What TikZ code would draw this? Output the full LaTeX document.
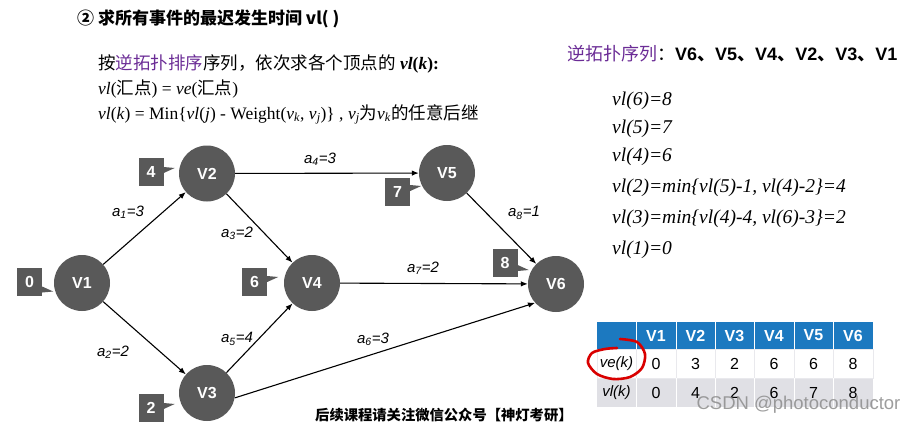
\documentclass[tikz,border=0pt]{standalone}
\usepackage{fontspec}
\setmainfont{Liberation Serif}
\setsansfont{Liberation Sans}
\newfontfamily\cjk{Noto Sans CJK SC}
\usetikzlibrary{arrows.meta}
\definecolor{ngray}{RGB}{89,89,89}
\definecolor{purp}{RGB}{107,44,150}
\definecolor{tblue}{RGB}{28,121,192}
\definecolor{rgray}{RGB}{224,224,229}
\definecolor{wm}{RGB}{140,140,140}
\begin{document}
\begin{tikzpicture}[x=1pt,y=-1pt,
  vert/.style={circle,fill=ngray,minimum size=56pt,inner sep=0pt,text=white,font=\sffamily\bfseries\fontsize{16}{16}\selectfont},
  tagbox/.style={fill=ngray,minimum width=25pt,minimum height=28pt,inner sep=0pt,text=white,font=\sffamily\bfseries\fontsize{16}{16}\selectfont},
  arr/.style={-{Latex[length=7pt,width=5.5pt]},line width=1.1pt},
  elab/.style={font=\sffamily\itshape\fontsize{15}{15}\selectfont,inner sep=0pt},
  txt/.style={anchor=base west,inner sep=0pt},
  vlt/.style={anchor=base west,inner sep=0pt,font=\itshape\fontsize{19.5}{19.5}\selectfont},
  hdr/.style={text=white,font=\sffamily\bfseries\fontsize{16}{16}\selectfont,inner sep=0pt},
  cell/.style={font=\sffamily\fontsize{16}{16}\selectfont,inner sep=0pt}
]
\useasboundingbox (0,0) rectangle (919,426);
\fill[white] (0,0) rectangle (919,426);

% ---- texts top-left
\node[txt] (title) at (77,24.5) {\cjk\bfseries\fontsize{17}{17}\selectfont ② 求所有事件的最迟发生时间 vl( )};
\node[txt] (l1) at (98,69) {\fontsize{17.5}{17.5}\selectfont{\cjk 按}{\cjk\color{purp}逆拓扑排序}{\cjk 序列，依次求各个顶点的} \textbf{\textit{vl}(\textit{k}):}};
\node[txt] (l2) at (98,94.5) {\fontsize{17.5}{17.5}\selectfont\textit{vl}({\cjk 汇点}) = \textit{ve}({\cjk 汇点})};
\node[txt] (l3) at (98,119) {\fontsize{17.5}{17.5}\selectfont\textit{vl}(\textit{k}) = Min\{\textit{vl}(\textit{j}) - Weight(\textit{v}\textsubscript{\textit{k}}, \textit{v}\textsubscript{\textit{j}})\} , \textit{v}\textsubscript{\textit{j}}{\cjk 为}\textit{v}\textsubscript{\textit{k}}{\cjk 的任意后继}};

% ---- right texts
\node[txt] (seq) at (567,60) {\fontsize{18}{18}\selectfont{\cjk\color{purp}逆拓扑序列}{\cjk ：}\sffamily\bfseries V6{\cjk 、}V5{\cjk 、}V4{\cjk 、}V2{\cjk 、}V3{\cjk 、}V1};
\node[vlt] (r1) at (612,105) {vl(6)=8};
\node[vlt] (r2) at (612,133) {vl(5)=7};
\node[vlt] (r3) at (612,161.5) {vl(4)=6};
\node[vlt] (r4) at (612,192.5) {vl(2)=min\{vl(5)-1, vl(4)-2\}=4};
\node[vlt] (r5) at (612,223.5) {vl(3)=min\{vl(4)-4, vl(6)-3\}=2};
\node[vlt] (r6) at (612,254) {vl(1)=0};

% ---- graph
\node[vert] (V1) at (82,283) {V1};
\node[vert] (V2) at (207,173.5) {V2};
\node[vert] (V3) at (207,393) {V3};
\node[vert] (V4) at (312,283) {V4};
\node[vert] (V5) at (447,173) {V5};
\node[vert] (V6) at (556,284) {V6};

\draw[arr] (V1) -- (V2);
\draw[arr] (V1) -- (V3);
\draw[arr] (V2) -- (V4);
\draw[arr] (V3) -- (V4);
\draw[arr] (V2) -- (V5);
\draw[arr] (V4) -- (V6);
\draw[arr] (V5) -- (V6);
\draw[arr] (V3.-10) -- (V6.222);

\node[elab] (e1) at (128,212) {a\textsubscript{1}=3};
\node[elab] (e2) at (113,352) {a\textsubscript{2}=2};
\node[elab] (e3) at (237,233) {a\textsubscript{3}=2};
\node[elab] (e4) at (320,159) {a\textsubscript{4}=3};
\node[elab] (e5) at (237,339) {a\textsubscript{5}=4};
\node[elab] (e6) at (373,339) {a\textsubscript{6}=3};
\node[elab] (e7) at (423,268) {a\textsubscript{7}=2};
\node[elab] (e8) at (524,213) {a\textsubscript{8}=1};

% ---- tag boxes with pointers
\node[tagbox] (b0) at (29.5,281.5) {0};
\fill[ngray] (b0.east) ++(0,5) -- ++(11,5) -- ++(-11,1) -- cycle;
\node[tagbox] (b4) at (151,172) {4};
\fill[ngray] (b4.east) ++(0,-5) -- ++(11,1) -- ++(-11,5) -- cycle;
\node[tagbox] (b2) at (151,407.5) {2};
\fill[ngray] (b2.east) ++(0,-4.5) -- ++(11,1) -- ++(-11,5) -- cycle;
\node[tagbox] (b6) at (254.5,281.5) {6};
\fill[ngray] (b6.east) ++(0,-5.5) -- ++(11,1) -- ++(-11,5) -- cycle;
\node[tagbox] (b7) at (397.5,192) {7};
\fill[ngray] (b7.east) ++(0,-7) -- ++(11,1) -- ++(-11,5) -- cycle;
\node[tagbox] (b8) at (505,263) {8};
\fill[ngray] (b8.east) ++(0,2) -- ++(11,5) -- ++(-11,1) -- cycle;

% ---- table
\fill[tblue] (597,322) rectangle (873,349);
\fill[white] (597,349) rectangle (873,378);
\fill[rgray] (597,378) rectangle (873,407);
\draw[rgray!70!white, line width=0.6pt] (597,349) rectangle (873,378);
\foreach \x in {636,676,715,754,794,833} {
  \draw[white, line width=0.8pt] (\x,322) -- (\x,349);
  \draw[rgray!70!white, line width=0.6pt] (\x,349) -- (\x,378);
  \draw[white, line width=0.8pt] (\x,378) -- (\x,407);
}
\foreach \n/\x in {1/656,2/695.5,3/734.5,4/774,5/813.5,6/853} {
  \node[hdr] (h\n) at (\x,335.5) {V\n};
}
\node[cell,font=\sffamily\itshape\fontsize{15}{15}\selectfont] (ve) at (616.5,363.5) {ve(k)};
\node[cell,font=\sffamily\itshape\fontsize{15}{15}\selectfont] (vl) at (616.5,392.5) {vl(k)};
\foreach \n/\x/\a/\b in {1/656/0/0,2/695.5/3/4,3/734.5/2/2,4/774/6/6,5/813.5/6/7,6/853/8/8} {
  \node[cell] (ve\n) at (\x,363.5) {\a};
  \node[cell] (vl\n) at (\x,392.5) {\b};
}
% red annotation stroke
\draw[red!85!black, line width=2.6pt, line cap=round, line join=round]
  plot[smooth] coordinates {(620,339) (637,342) (645,354) (642,368) (630,377) (613,379) (597,374) (588,363) (592,353) (605,349) (617,348)};

% watermark
\node[font=\sffamily\fontsize{18.5}{18.5}\selectfont, text=wm, inner sep=0pt, opacity=0.85] (wmk) at (798.5,405) {CSDN @photoconductor};

% footer
\node[txt] (foot) at (315,420.5) {\cjk\bfseries\fontsize{14.3}{14.3}\selectfont 后续课程请关注微信公众号【神灯考研】};
\end{tikzpicture}
\end{document}
